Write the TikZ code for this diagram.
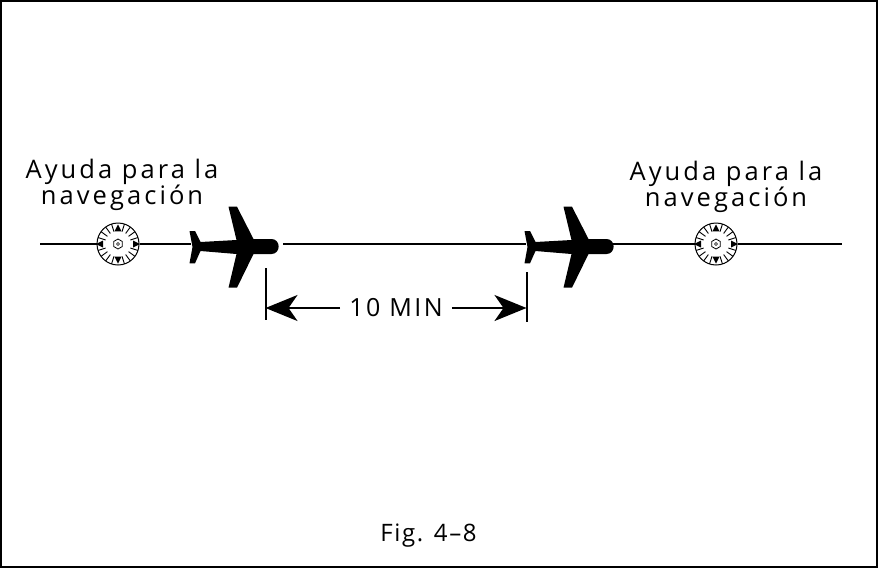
\documentclass[tikz,border=0pt]{standalone}
\usepackage{fontspec}
\setmainfont{Open Sans}[LetterSpace=0]
\newfontfamily\lblfont{Open Sans}[LetterSpace=12]
\newfontfamily\dimfont{Open Sans}[LetterSpace=10]
\newfontfamily\figfont{Open Sans}[LetterSpace=7]
\usetikzlibrary{arrows.meta}
\tikzset{
  x=1pt,y=-1pt,
  lbl/.style={inner sep=0pt,align=center,font=\lblfont\fontsize{25.5}{24.5}\selectfont},
  dimlbl/.style={inner sep=0pt,font=\dimfont\fontsize{25}{28}\selectfont},
  figlbl/.style={inner sep=0pt,font=\figfont\fontsize{24}{28}\selectfont},
  track/.style={line width=2.2pt},
  dimline/.style={line width=2pt,-{Stealth[length=32pt,width=26pt,inset=9pt]}},
  tick/.style={line width=2pt},
  navaid/.style={circle,draw,line width=1pt,minimum size=42pt,inner sep=0pt,fill=white},
  pics/plane/.style={code={
    \fill (-89,-13) -- (-83.5,-13) -- (-78,-2) -- (-42,-4) -- (-50,-37.3) -- (-41.5,-37.3) -- (-25,-5)
      -- (-7,-5) .. controls (2.5,-5) and (2.5,10) .. (-7,10)
      -- (-25,10) -- (-41.5,43.7) -- (-50,43.7) -- (-42,10) -- (-78,7)
      -- (-83.5,19.3) -- (-89,19.3) -- (-86,3) -- cycle;
  }},
  pics/compass/.style={code={
    \foreach \a in {18,36,54,72,108,126,144,162,198,216,234,252,288,306,324,342}
      \draw[line width=.9pt] (\a:13) -- (\a:21);
    \foreach \a in {90,270}
      \fill[rotate=\a] (19.5,0) -- (12.7,-3.5) -- (12.7,3.5) -- cycle;
    \foreach \a in {0,180}
      \fill[rotate=\a] (22,0) -- (15,-3.5) -- (15,3.5) -- cycle;
    \draw[line width=.8pt] (30:5) -- (90:5) -- (150:5) -- (210:5) -- (270:5) -- (330:5) -- cycle;
    \draw[line width=.6pt] (0,0) circle (1.5);
  }}
}
\begin{document}
\begin{tikzpicture}
\path[use as bounding box] (0,0) rectangle (878,568);
\draw[line width=2pt] (1,1) rectangle (877,567);

\node[navaid] (nava) at (118,244) {};
\node[navaid] (navb) at (716,244) {};
\pic at (nava) {compass};
\pic at (navb) {compass};

\pic at (278.5,244) {plane};
\pic at (613.5,244) {plane};

\coordinate (trackstart) at (40,244);
\coordinate (trackend) at (842,244);
\coordinate (taila) at (191,244);
\coordinate (nosea) at (283,244);
\coordinate (tailb) at (526,244);
\coordinate (noseb) at (612,244);

\draw[track] (trackstart) -- (nava);
\draw[track] (nava) -- (taila);
\draw[track] (nosea) -- (tailb);
\draw[track] (noseb) -- (navb);
\draw[track] (navb) -- (trackend);

\node[lbl] (laba) at (122,185) {Ayuda para la\\navegación};
\node[lbl] (labb) at (726,187) {Ayuda para la\\navegación};

\coordinate (ta1) at (265.5,268);
\coordinate (ta2) at (265.5,320);
\coordinate (tb1) at (526.5,272);
\coordinate (tb2) at (526.5,322);
\coordinate (da) at (265.5,308);
\coordinate (db) at (526.5,308);
\draw[tick] (ta1) -- (ta2);
\draw[tick] (tb1) -- (tb2);

\node[dimlbl] (dim) at (396,308) {10 MIN};
\draw[dimline] ([xshift=-9pt]dim.west |- da) -- (da);
\draw[dimline] ([xshift=9pt]dim.east |- db) -- (db);

\node[figlbl] (fig) at (428.5,536) {Fig. 4–8};
\end{tikzpicture}
\end{document}
